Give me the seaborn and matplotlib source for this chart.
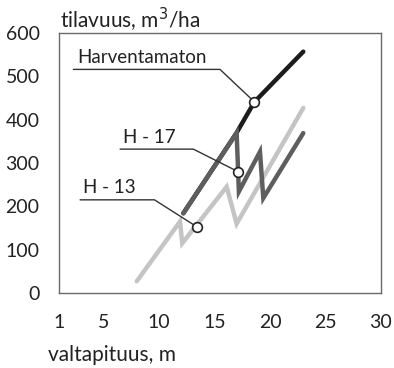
import seaborn as sns
import matplotlib.pyplot as plt
import pandas as pd

# (valtapituus m, tilavuus m3/ha)
harv_x = [12.2, 17.0, 18.6, 23.0]
harv_y = [184, 370, 441, 557]
h17_x = [12.2, 17.0, 17.2, 19.1, 19.4, 23.0]
h17_y = [184, 369, 234, 326, 219, 369]
h13_x = [8.0, 11.9, 12.1, 16.1, 17.0, 23.0]
h13_y = [27, 165, 115, 245, 160, 427]

x_ticks = [1, 5, 10, 15, 20, 25, 30]
y_ticks = [0, 100, 200, 300, 400, 500, 600]

names = ["H - 13", "Harventamaton", "H - 17"]
colors = {"H - 13": "#c4c4c4", "Harventamaton": "#1c1c1c", "H - 17": "#5e5e5e"}

df = pd.concat([
    pd.DataFrame({"x": h13_x, "y": h13_y, "sarja": "H - 13"}),
    pd.DataFrame({"x": harv_x, "y": harv_y, "sarja": "Harventamaton"}),
    pd.DataFrame({"x": h17_x, "y": h17_y, "sarja": "H - 17"}),
], ignore_index=True)

sns.set_style("white")
plt.rcParams["font.family"] = ["Lato", "DejaVu Sans"]

fig = plt.figure(figsize=(3.94, 3.68), dpi=100)
ax = fig.add_axes([59 / 394, 75 / 368, 322 / 394, 260 / 368])

sns.lineplot(data=df, x="x", y="y", hue="sarja", hue_order=names, palette=colors,
             sort=False, estimator=None, linewidth=3.2, legend=False, ax=ax,
             solid_joinstyle="miter")

ax.set_xlim(1, 30)
ax.set_ylim(0, 600)
ax.set_xticks(x_ticks)
ax.set_yticks(y_ticks)
ax.set_xlabel("")
ax.set_ylabel("")
for s in ax.spines.values():
    s.set_color("#6a6a6a")
    s.set_linewidth(1.0)
ax.tick_params(direction="out", length=7, width=1.0, color="#6a6a6a",
               labelsize=14, labelcolor="#222222")
ax.tick_params(axis="x", pad=8)
ax.tick_params(axis="y", pad=7)

fig.text(60 / 394, 1 - 28 / 368, "tilavuus, m$^3$/ha", fontsize=15, color="#222222")
fig.text(48 / 394, 1 - 361 / 368, "valtapituus, m", fontsize=15, color="#222222")

# labels with underline and leader to a ring on the line
labels = [
    ("Harventamaton", 2.3, 516, 15.5, (harv_x[2], harv_y[2])),
    ("H - 17", 6.5, 332, 13.1, (17.13, 280)),
    ("H - 13", 2.9, 215, 9.6, (13.4, 153)),
]
for text, x0, yl, xe, pt in labels:
    ax.plot([x0, xe, pt[0]], [yl, yl, pt[1]], color="#333333", lw=1.0)
    ax.text(x0 + 0.3, yl + 8, text, fontsize=13.5, color="#222222", va="bottom")
    ax.plot(pt[0], pt[1], "o", ms=7, mfc="white", mec="#222222", mew=1.2)

plt.savefig("out.png", dpi=100)
